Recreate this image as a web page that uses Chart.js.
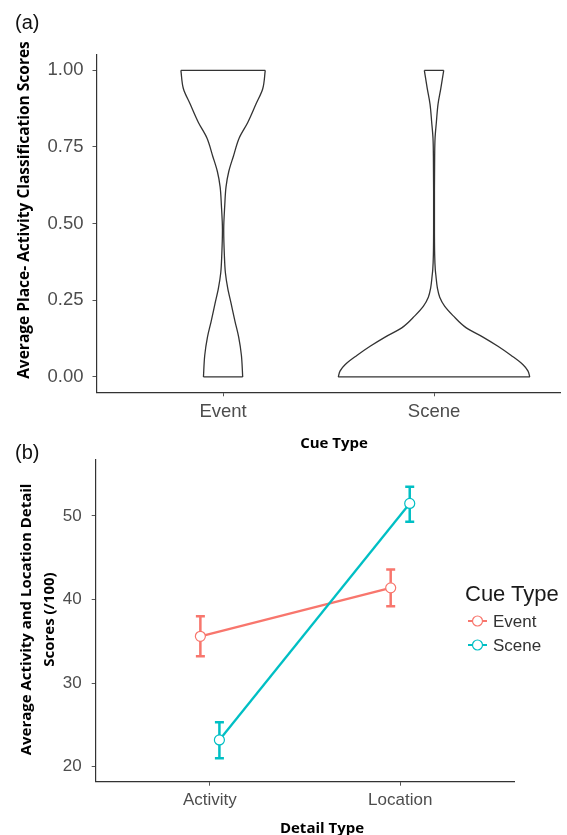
<!DOCTYPE html>
<html>
<head>
<meta charset="utf-8">
<script src="https://cdn.jsdelivr.net/npm/chart.js@4.4.0/dist/chart.umd.min.js"></script>
<style>
  body { margin: 0; background: #fff; }
  #wrap { position: relative; width: 567px; height: 835px; overflow: hidden; font-family: "Liberation Sans", Arial, sans-serif; }
  canvas { position: absolute; left: 0; top: 0; }
  .lbl { position: absolute; white-space: nowrap; }
  .ttl { font-family: "Open Sans", sans-serif; font-weight: 700; font-size: 15px; color: #000; text-align: center; }
  .tag { font-size: 20px; line-height: 20px; color: #111; }
  .leg { font-size: 17px; line-height: 17px; color: #333; }
</style>
</head>
<body>
<div id="wrap">
  <canvas id="violin" width="567" height="835"></canvas>
  <canvas id="lines" width="567" height="835"></canvas>

  <div class="lbl tag" style="left:15px; top:12px;">(a)</div>
  <div class="lbl tag" style="left:15px; top:442px;">(b)</div>

  <div class="lbl ttl" style="left:-177px; top:199px; width:400px; line-height:22px; font-size:15.5px; transform:rotate(-90deg);">Average Place- Activity Classification Scores</div>
  <div class="lbl ttl" style="left:234px; top:431px; width:200px; line-height:22px;">Cue Type</div>

  <div class="lbl ttl" style="left:-164.5px; top:597px; width:400px; line-height:22.5px; transform:rotate(-90deg);">Average Activity and Location Detail<br>Scores (/100)</div>
  <div class="lbl ttl" style="left:222px; top:816px; width:200px; line-height:22px;">Detail Type</div>

  <div class="lbl" style="left:465px; top:583px; font-size:22px; line-height:22px; color:#1a1a1a;">Cue Type</div>
  <div class="lbl leg" style="left:467px; top:612px;">
    <svg width="22" height="18" style="vertical-align:top"><line x1="1" y1="9" x2="20" y2="9" stroke="#F8766D" stroke-width="2"/><circle cx="10.5" cy="9" r="5" fill="#fff" stroke="#F8766D" stroke-width="1.2"/></svg>
    <span style="position:absolute; left:26px; top:1px;">Event</span>
  </div>
  <div class="lbl leg" style="left:467px; top:636px;">
    <svg width="22" height="18" style="vertical-align:top"><line x1="1" y1="9" x2="20" y2="9" stroke="#00BFC4" stroke-width="2"/><circle cx="10.5" cy="9" r="5" fill="#fff" stroke="#00BFC4" stroke-width="1.2"/></svg>
    <span style="position:absolute; left:26px; top:1px;">Scene</span>
  </div>
</div>

<script>
// ---- panel (a): violins of classification scores by cue type ----
const cueTypes = ["Event", "Scene"];
const scoreTicks = [0, 0.25, 0.5, 0.75, 1];

// half-widths of each violin (in category units) at score levels
const eventLevels = [0, 0.07, 0.13, 0.18, 0.24, 0.29, 0.34, 0.40, 0.48, 0.56, 0.62, 0.67, 0.72, 0.78, 0.83, 0.89, 0.94, 1.00];
const eventHalfWidths = [0.093, 0.087, 0.074, 0.057, 0.038, 0.022, 0.011, 0.006, 0.003, 0.008, 0.014, 0.027, 0.049, 0.077, 0.117, 0.156, 0.188, 0.200];
const sceneLevels = [0, 0.02, 0.04, 0.07, 0.10, 0.13, 0.16, 0.20, 0.23, 0.26, 0.29, 0.33, 0.35, 0.40, 0.50, 0.60, 0.72, 0.78, 0.83, 0.89, 0.94, 1.00];
const sceneHalfWidths = [0.454, 0.445, 0.422, 0.366, 0.303, 0.232, 0.153, 0.090, 0.051, 0.027, 0.016, 0.009, 0.006, 0.003, 0.002, 0.002, 0.003, 0.005, 0.011, 0.019, 0.032, 0.046];

// ---- panel (b): detail scores by detail type and cue type ----
const detailTypes = ["Activity", "Location"];
const detailTicks = [20, 30, 40, 50];
const eventMeans = [35.6, 41.4];
const eventLow = [33.2, 39.2];
const eventHigh = [38.0, 43.6];
const sceneMeans = [23.2, 51.5];
const sceneLow = [21.0, 49.3];
const sceneHigh = [25.3, 53.5];

const EVENT_COLOR = "#F8766D";
const SCENE_COLOR = "#00BFC4";
const tickFont = "Liberation Sans";

function violinSets(center, levels, widths) {
    const left = levels.map((v, i) => ({ x: center - widths[i], y: v }));
    const right = levels.map((v, i) => ({ x: center + widths[i], y: v }));
    const n = levels.length - 1;
    // sides are smoothed along the score axis, flat edges stay straight
    const side = { showLine: true, cubicInterpolationMode: "monotone" };
    return [
        Object.assign({ data: left }, side),
        Object.assign({ data: right }, side),
        { data: [left[0], right[0]], showLine: true, tension: 0 },
        { data: [left[n], right[n]], showLine: true, tension: 0 },
    ];
}

new Chart(document.getElementById("violin"), {
    type: "scatter",
    data: {
        datasets: [
            ...violinSets(1, eventLevels, eventHalfWidths),
            ...violinSets(2, sceneLevels, sceneHalfWidths),
        ],
    },
    options: {
        responsive: false,
        animation: false,
        indexAxis: "y",
        layout: { padding: { top: 55, right: 6.4, left: 0, bottom: 0 } },
        plugins: { legend: { display: false }, tooltip: { enabled: false } },
        elements: {
            point: { radius: 0, hoverRadius: 0 },
            line: { borderColor: "#333", borderWidth: 1.3, fill: false },
        },
        scales: {
            x: {
                type: "linear",
                position: "bottom",
                min: 0.4,
                max: 2.6,
                afterBuildTicks: (s) => { s.ticks = [1, 2].map((v) => ({ value: v })); },
                afterFit: (s) => { s.height = 835 - 392.3; },
                ticks: {
                    callback: (v) => cueTypes[Math.round(v) - 1],
                    font: { family: tickFont, size: 18.5 },
                    color: "#4d4d4d",
                    padding: 5,
                    maxRotation: 0,
                    autoSkip: false,
                },
                grid: { drawOnChartArea: false, tickLength: 4, color: "#555" },
                border: { display: true, color: "#333", width: 1.2 },
            },
            y: {
                type: "linear",
                position: "left",
                min: -0.05,
                max: 1.05,
                afterBuildTicks: (s) => { s.ticks = scoreTicks.map((v) => ({ value: v })); },
                afterFit: (s) => { s.width = 96.5; },
                ticks: {
                    callback: (v) => v.toFixed(2),
                    font: { family: tickFont, size: 18.5 },
                    color: "#4d4d4d",
                    padding: 9,
                },
                grid: { drawOnChartArea: false, tickLength: 4, color: "#555" },
                border: { display: true, color: "#333", width: 1.2 },
            },
        },
    },
});

// error bars drawn under the lines and points
const errorBars = {
    id: "errorBars",
    beforeDatasetsDraw(chart) {
        const { ctx, scales: { x, y } } = chart;
        chart.data.datasets.forEach((ds) => {
            ds.data.forEach((p, i) => {
                const px = x.getPixelForValue(p.x);
                const top = y.getPixelForValue(ds.errHigh[i]);
                const bot = y.getPixelForValue(ds.errLow[i]);
                ctx.save();
                ctx.strokeStyle = ds.borderColor;
                ctx.lineWidth = 2.5;
                ctx.beginPath();
                ctx.moveTo(px, top);
                ctx.lineTo(px, bot);
                ctx.moveTo(px - 4.5, top);
                ctx.lineTo(px + 4.5, top);
                ctx.moveTo(px - 4.5, bot);
                ctx.lineTo(px + 4.5, bot);
                ctx.stroke();
                ctx.restore();
            });
        });
    },
};

const dodge = 0.05;

function lineSet(label, means, low, high, color, shift) {
    return {
        label: label,
        data: means.map((m, i) => ({ x: i + 1 + shift, y: m })),
        errLow: low,
        errHigh: high,
        showLine: true,
        borderColor: color,
        borderWidth: 2.3,
        pointRadius: 5,
        pointBackgroundColor: "#fff",
        pointBorderColor: color,
        pointBorderWidth: 1.2,
        pointHoverRadius: 5,
    };
}

new Chart(document.getElementById("lines"), {
    type: "scatter",
    data: {
        datasets: [
            lineSet("Scene", sceneMeans, sceneLow, sceneHigh, SCENE_COLOR, dodge),
            lineSet("Event", eventMeans, eventLow, eventHigh, EVENT_COLOR, -dodge),
        ],
    },
    options: {
        responsive: false,
        animation: false,
        layout: { padding: { top: 460, right: 567 - 514.4, left: 0, bottom: 0 } },
        plugins: { legend: { display: false }, tooltip: { enabled: false } },
        scales: {
            x: {
                type: "linear",
                min: 0.4,
                max: 2.6,
                afterBuildTicks: (s) => { s.ticks = [1, 2].map((v) => ({ value: v })); },
                afterFit: (s) => { s.height = 835 - 781.7; },
                ticks: {
                    callback: (v) => detailTypes[Math.round(v) - 1],
                    font: { family: tickFont, size: 17 },
                    color: "#4d4d4d",
                    padding: 4,
                    maxRotation: 0,
                    autoSkip: false,
                },
                grid: { drawOnChartArea: false, tickLength: 4, color: "#555" },
                border: { display: true, color: "#333", width: 1.2 },
            },
            y: {
                min: 18.2,
                max: 56.7,
                afterBuildTicks: (s) => { s.ticks = detailTicks.map((v) => ({ value: v })); },
                afterFit: (s) => { s.width = 95.7; },
                ticks: {
                    font: { family: tickFont, size: 17 },
                    color: "#4d4d4d",
                    padding: 10,
                },
                grid: { drawOnChartArea: false, tickLength: 4, color: "#555" },
                border: { display: true, color: "#333", width: 1.2 },
            },
        },
    },
    plugins: [errorBars],
});
</script>
</body>
</html>
